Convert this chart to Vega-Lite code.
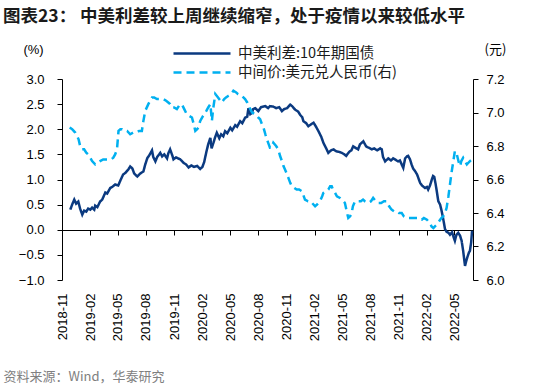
{
  "$schema": "https://vega.github.io/schema/vega-lite/v6.json",
  "width": 411,
  "height": 201,
  "autosize": {"type": "none"},
  "padding": {"left": 62, "top": 79, "right": 77, "bottom": 104},
  "background": "white",
  "title": {
    "text": "图表23： 中美利差较上周继续缩窄，处于疫情以来较低水平",
    "anchor": "start",
    "frame": "group",
    "dx": -59,
    "dy": -18,
    "offset": 0,
    "font": "Noto Sans CJK SC",
    "fontSize": 17.5,
    "fontWeight": "bold",
    "color": "#1a1a1a"
  },
  "datasets": {
    "spread": [
      {"d": "2018-11-28", "v": 0.40}, {"d": "2018-12-04", "v": 0.50}, {"d": "2018-12-11", "v": 0.60}, {"d": "2018-12-17", "v": 0.52},
      {"d": "2018-12-24", "v": 0.56}, {"d": "2018-12-30", "v": 0.42}, {"d": "2019-01-06", "v": 0.30}, {"d": "2019-01-12", "v": 0.38},
      {"d": "2019-01-19", "v": 0.36}, {"d": "2019-01-25", "v": 0.42}, {"d": "2019-02-01", "v": 0.40}, {"d": "2019-02-07", "v": 0.44},
      {"d": "2019-02-14", "v": 0.40}, {"d": "2019-02-17", "v": 0.48}, {"d": "2019-02-24", "v": 0.45}, {"d": "2019-03-05", "v": 0.56},
      {"d": "2019-03-12", "v": 0.60}, {"d": "2019-03-22", "v": 0.74}, {"d": "2019-03-28", "v": 0.72}, {"d": "2019-04-07", "v": 0.83},
      {"d": "2019-04-13", "v": 0.85}, {"d": "2019-04-23", "v": 0.90}, {"d": "2019-05-03", "v": 0.88}, {"d": "2019-05-10", "v": 0.98},
      {"d": "2019-05-19", "v": 1.10}, {"d": "2019-05-26", "v": 1.13}, {"d": "2019-06-05", "v": 1.20}, {"d": "2019-06-11", "v": 1.26},
      {"d": "2019-06-18", "v": 1.22}, {"d": "2019-06-24", "v": 1.12}, {"d": "2019-07-04", "v": 1.06}, {"d": "2019-07-14", "v": 1.12},
      {"d": "2019-07-24", "v": 1.16}, {"d": "2019-07-30", "v": 1.30}, {"d": "2019-08-06", "v": 1.43}, {"d": "2019-08-12", "v": 1.48},
      {"d": "2019-08-21", "v": 1.58}, {"d": "2019-08-25", "v": 1.45}, {"d": "2019-09-01", "v": 1.36}, {"d": "2019-09-07", "v": 1.45},
      {"d": "2019-09-17", "v": 1.53}, {"d": "2019-09-23", "v": 1.46}, {"d": "2019-09-30", "v": 1.50}, {"d": "2019-10-09", "v": 1.42},
      {"d": "2019-10-13", "v": 1.52}, {"d": "2019-10-19", "v": 1.60}, {"d": "2019-10-26", "v": 1.48}, {"d": "2019-10-30", "v": 1.40},
      {"d": "2019-11-07", "v": 1.44}, {"d": "2019-11-21", "v": 1.40}, {"d": "2019-12-02", "v": 1.33}, {"d": "2019-12-10", "v": 1.30},
      {"d": "2019-12-18", "v": 1.24}, {"d": "2019-12-27", "v": 1.28}, {"d": "2020-01-05", "v": 1.25}, {"d": "2020-01-15", "v": 1.27},
      {"d": "2020-01-25", "v": 1.21}, {"d": "2020-02-01", "v": 1.25}, {"d": "2020-02-07", "v": 1.35}, {"d": "2020-02-14", "v": 1.55},
      {"d": "2020-02-20", "v": 1.70}, {"d": "2020-02-27", "v": 1.83}, {"d": "2020-03-02", "v": 1.62}, {"d": "2020-03-08", "v": 1.73},
      {"d": "2020-03-14", "v": 1.85}, {"d": "2020-03-19", "v": 1.93}, {"d": "2020-03-27", "v": 1.82}, {"d": "2020-04-02", "v": 1.90},
      {"d": "2020-04-09", "v": 1.86}, {"d": "2020-04-15", "v": 1.96}, {"d": "2020-04-22", "v": 1.92}, {"d": "2020-05-02", "v": 2.03},
      {"d": "2020-05-08", "v": 1.98}, {"d": "2020-05-18", "v": 2.08}, {"d": "2020-05-24", "v": 2.05}, {"d": "2020-06-03", "v": 2.16},
      {"d": "2020-06-10", "v": 2.12}, {"d": "2020-06-19", "v": 2.23}, {"d": "2020-06-26", "v": 2.25}, {"d": "2020-06-30", "v": 2.42},
      {"d": "2020-07-06", "v": 2.30}, {"d": "2020-07-11", "v": 2.32}, {"d": "2020-07-15", "v": 2.40}, {"d": "2020-07-22", "v": 2.42},
      {"d": "2020-08-01", "v": 2.36}, {"d": "2020-08-10", "v": 2.44}, {"d": "2020-08-24", "v": 2.46}, {"d": "2020-09-02", "v": 2.42},
      {"d": "2020-09-08", "v": 2.46}, {"d": "2020-09-19", "v": 2.45}, {"d": "2020-09-28", "v": 2.42}, {"d": "2020-10-08", "v": 2.44},
      {"d": "2020-10-17", "v": 2.36}, {"d": "2020-10-24", "v": 2.40}, {"d": "2020-11-03", "v": 2.42}, {"d": "2020-11-13", "v": 2.49},
      {"d": "2020-11-19", "v": 2.46}, {"d": "2020-11-29", "v": 2.39}, {"d": "2020-12-09", "v": 2.35}, {"d": "2020-12-15", "v": 2.29},
      {"d": "2020-12-22", "v": 2.24}, {"d": "2020-12-26", "v": 2.16}, {"d": "2021-01-04", "v": 2.12}, {"d": "2021-01-11", "v": 2.06},
      {"d": "2021-01-20", "v": 2.10}, {"d": "2021-01-28", "v": 2.13}, {"d": "2021-02-05", "v": 2.05}, {"d": "2021-02-13", "v": 1.96},
      {"d": "2021-02-22", "v": 1.85}, {"d": "2021-03-01", "v": 1.73}, {"d": "2021-03-10", "v": 1.62}, {"d": "2021-03-17", "v": 1.53},
      {"d": "2021-03-26", "v": 1.58}, {"d": "2021-04-03", "v": 1.60}, {"d": "2021-04-12", "v": 1.56}, {"d": "2021-04-21", "v": 1.55},
      {"d": "2021-04-30", "v": 1.53}, {"d": "2021-05-08", "v": 1.50}, {"d": "2021-05-14", "v": 1.47}, {"d": "2021-05-24", "v": 1.55},
      {"d": "2021-05-31", "v": 1.58}, {"d": "2021-06-06", "v": 1.66}, {"d": "2021-06-16", "v": 1.62}, {"d": "2021-06-22", "v": 1.60},
      {"d": "2021-06-28", "v": 1.70}, {"d": "2021-07-09", "v": 1.76}, {"d": "2021-07-18", "v": 1.66}, {"d": "2021-07-24", "v": 1.64},
      {"d": "2021-08-06", "v": 1.60}, {"d": "2021-08-13", "v": 1.62}, {"d": "2021-08-23", "v": 1.58}, {"d": "2021-09-02", "v": 1.62},
      {"d": "2021-09-07", "v": 1.60}, {"d": "2021-09-11", "v": 1.45}, {"d": "2021-09-18", "v": 1.36}, {"d": "2021-09-28", "v": 1.42},
      {"d": "2021-10-07", "v": 1.38}, {"d": "2021-10-14", "v": 1.42}, {"d": "2021-10-20", "v": 1.40}, {"d": "2021-10-30", "v": 1.36},
      {"d": "2021-11-05", "v": 1.38}, {"d": "2021-11-16", "v": 1.23}, {"d": "2021-11-22", "v": 1.42}, {"d": "2021-11-28", "v": 1.46},
      {"d": "2021-12-02", "v": 1.47}, {"d": "2021-12-08", "v": 1.40}, {"d": "2021-12-13", "v": 1.30}, {"d": "2021-12-18", "v": 1.22},
      {"d": "2021-12-24", "v": 1.17}, {"d": "2021-12-31", "v": 1.10}, {"d": "2022-01-10", "v": 0.93}, {"d": "2022-01-16", "v": 0.88},
      {"d": "2022-01-26", "v": 0.83}, {"d": "2022-02-01", "v": 0.85}, {"d": "2022-02-05", "v": 0.80}, {"d": "2022-02-11", "v": 0.88},
      {"d": "2022-02-17", "v": 1.00}, {"d": "2022-02-21", "v": 1.07}, {"d": "2022-02-25", "v": 1.05}, {"d": "2022-03-01", "v": 0.92},
      {"d": "2022-03-05", "v": 0.77}, {"d": "2022-03-10", "v": 0.57}, {"d": "2022-03-16", "v": 0.50}, {"d": "2022-03-21", "v": 0.37},
      {"d": "2022-03-25", "v": 0.25}, {"d": "2022-04-01", "v": 0.01}, {"d": "2022-04-06", "v": -0.04}, {"d": "2022-04-12", "v": -0.06},
      {"d": "2022-04-17", "v": -0.10}, {"d": "2022-04-24", "v": -0.05}, {"d": "2022-04-29", "v": -0.15}, {"d": "2022-05-03", "v": -0.22},
      {"d": "2022-05-08", "v": -0.10}, {"d": "2022-05-14", "v": -0.06}, {"d": "2022-05-20", "v": -0.12}, {"d": "2022-05-25", "v": -0.22},
      {"d": "2022-05-30", "v": -0.42}, {"d": "2022-06-05", "v": -0.72}, {"d": "2022-06-10", "v": -0.60}, {"d": "2022-06-14", "v": -0.52},
      {"d": "2022-06-18", "v": -0.45}, {"d": "2022-06-21", "v": -0.42}, {"d": "2022-06-25", "v": -0.25}, {"d": "2022-06-28", "v": -0.02}
    ],
    "fx": [
      {"d": "2018-11-26", "v": 6.91}, {"d": "2018-12-04", "v": 6.90}, {"d": "2018-12-14", "v": 6.88}, {"d": "2018-12-20", "v": 6.86},
      {"d": "2018-12-25", "v": 6.84}, {"d": "2018-12-30", "v": 6.80}, {"d": "2019-01-05", "v": 6.78}, {"d": "2019-01-12", "v": 6.78},
      {"d": "2019-01-19", "v": 6.76}, {"d": "2019-01-25", "v": 6.75}, {"d": "2019-02-01", "v": 6.73}, {"d": "2019-02-07", "v": 6.71},
      {"d": "2019-02-17", "v": 6.69}, {"d": "2019-02-24", "v": 6.70}, {"d": "2019-03-05", "v": 6.71}, {"d": "2019-03-15", "v": 6.72},
      {"d": "2019-03-22", "v": 6.72}, {"d": "2019-03-31", "v": 6.72}, {"d": "2019-04-10", "v": 6.72}, {"d": "2019-04-17", "v": 6.73},
      {"d": "2019-04-23", "v": 6.75}, {"d": "2019-04-29", "v": 6.78}, {"d": "2019-05-04", "v": 6.89}, {"d": "2019-05-10", "v": 6.90},
      {"d": "2019-05-16", "v": 6.90}, {"d": "2019-05-26", "v": 6.89}, {"d": "2019-06-01", "v": 6.89}, {"d": "2019-06-11", "v": 6.87},
      {"d": "2019-06-21", "v": 6.88}, {"d": "2019-06-30", "v": 6.88}, {"d": "2019-07-10", "v": 6.89}, {"d": "2019-07-19", "v": 6.89},
      {"d": "2019-07-24", "v": 6.95}, {"d": "2019-07-30", "v": 7.01}, {"d": "2019-08-09", "v": 7.05}, {"d": "2019-08-21", "v": 7.09},
      {"d": "2019-08-28", "v": 7.09}, {"d": "2019-09-06", "v": 7.08}, {"d": "2019-09-17", "v": 7.08}, {"d": "2019-09-27", "v": 7.08},
      {"d": "2019-10-06", "v": 7.07}, {"d": "2019-10-13", "v": 7.06}, {"d": "2019-10-19", "v": 7.05}, {"d": "2019-10-25", "v": 7.03},
      {"d": "2019-11-01", "v": 7.03}, {"d": "2019-11-10", "v": 7.02}, {"d": "2019-11-17", "v": 7.04}, {"d": "2019-11-26", "v": 7.05},
      {"d": "2019-12-04", "v": 7.02}, {"d": "2019-12-12", "v": 6.99}, {"d": "2019-12-20", "v": 6.98}, {"d": "2019-12-29", "v": 6.97},
      {"d": "2020-01-04", "v": 6.93}, {"d": "2020-01-09", "v": 6.89}, {"d": "2020-01-15", "v": 6.90}, {"d": "2020-01-19", "v": 6.91},
      {"d": "2020-01-25", "v": 6.95}, {"d": "2020-01-31", "v": 6.97}, {"d": "2020-02-07", "v": 6.99}, {"d": "2020-02-14", "v": 7.01},
      {"d": "2020-02-20", "v": 7.03}, {"d": "2020-02-27", "v": 7.05}, {"d": "2020-03-03", "v": 6.95}, {"d": "2020-03-07", "v": 7.02},
      {"d": "2020-03-14", "v": 7.11}, {"d": "2020-03-23", "v": 7.09}, {"d": "2020-04-04", "v": 7.06}, {"d": "2020-04-12", "v": 7.08},
      {"d": "2020-04-18", "v": 7.09}, {"d": "2020-04-26", "v": 7.10}, {"d": "2020-05-05", "v": 7.11}, {"d": "2020-05-12", "v": 7.13},
      {"d": "2020-05-21", "v": 7.12}, {"d": "2020-05-27", "v": 7.11}, {"d": "2020-06-08", "v": 7.10}, {"d": "2020-06-19", "v": 7.08},
      {"d": "2020-06-26", "v": 7.06}, {"d": "2020-07-06", "v": 7.02}, {"d": "2020-07-12", "v": 7.00}, {"d": "2020-07-22", "v": 6.99},
      {"d": "2020-08-01", "v": 6.97}, {"d": "2020-08-07", "v": 6.96}, {"d": "2020-08-13", "v": 6.93}, {"d": "2020-08-18", "v": 6.91},
      {"d": "2020-08-24", "v": 6.87}, {"d": "2020-08-29", "v": 6.84}, {"d": "2020-09-02", "v": 6.82}, {"d": "2020-09-08", "v": 6.79},
      {"d": "2020-09-13", "v": 6.79}, {"d": "2020-09-19", "v": 6.82}, {"d": "2020-09-28", "v": 6.80}, {"d": "2020-10-05", "v": 6.78},
      {"d": "2020-10-11", "v": 6.74}, {"d": "2020-10-17", "v": 6.71}, {"d": "2020-10-22", "v": 6.68}, {"d": "2020-10-27", "v": 6.66},
      {"d": "2020-11-03", "v": 6.63}, {"d": "2020-11-07", "v": 6.61}, {"d": "2020-11-13", "v": 6.58}, {"d": "2020-11-18", "v": 6.56},
      {"d": "2020-11-26", "v": 6.55}, {"d": "2020-12-04", "v": 6.54}, {"d": "2020-12-12", "v": 6.54}, {"d": "2020-12-21", "v": 6.53},
      {"d": "2020-12-25", "v": 6.51}, {"d": "2020-12-31", "v": 6.48}, {"d": "2021-01-10", "v": 6.47}, {"d": "2021-01-17", "v": 6.47},
      {"d": "2021-01-23", "v": 6.46}, {"d": "2021-02-02", "v": 6.44}, {"d": "2021-02-08", "v": 6.45}, {"d": "2021-02-18", "v": 6.47},
      {"d": "2021-02-25", "v": 6.50}, {"d": "2021-03-01", "v": 6.52}, {"d": "2021-03-10", "v": 6.53}, {"d": "2021-03-17", "v": 6.54},
      {"d": "2021-03-23", "v": 6.56}, {"d": "2021-03-28", "v": 6.56}, {"d": "2021-04-01", "v": 6.54}, {"d": "2021-04-08", "v": 6.52},
      {"d": "2021-04-14", "v": 6.50}, {"d": "2021-04-24", "v": 6.49}, {"d": "2021-05-01", "v": 6.48}, {"d": "2021-05-10", "v": 6.46},
      {"d": "2021-05-17", "v": 6.40}, {"d": "2021-05-21", "v": 6.37}, {"d": "2021-05-27", "v": 6.38}, {"d": "2021-06-01", "v": 6.40},
      {"d": "2021-06-05", "v": 6.44}, {"d": "2021-06-12", "v": 6.47}, {"d": "2021-06-22", "v": 6.47}, {"d": "2021-07-01", "v": 6.47},
      {"d": "2021-07-08", "v": 6.48}, {"d": "2021-07-14", "v": 6.47}, {"d": "2021-07-24", "v": 6.46}, {"d": "2021-08-03", "v": 6.47},
      {"d": "2021-08-10", "v": 6.49}, {"d": "2021-08-19", "v": 6.47}, {"d": "2021-08-27", "v": 6.46}, {"d": "2021-09-05", "v": 6.46},
      {"d": "2021-09-14", "v": 6.47}, {"d": "2021-09-23", "v": 6.47}, {"d": "2021-10-01", "v": 6.44}, {"d": "2021-10-09", "v": 6.42},
      {"d": "2021-10-17", "v": 6.41}, {"d": "2021-10-26", "v": 6.41}, {"d": "2021-11-02", "v": 6.40}, {"d": "2021-11-11", "v": 6.40},
      {"d": "2021-11-18", "v": 6.38}, {"d": "2021-11-27", "v": 6.37}, {"d": "2021-12-05", "v": 6.37}, {"d": "2021-12-13", "v": 6.37},
      {"d": "2021-12-21", "v": 6.37}, {"d": "2021-12-31", "v": 6.37}, {"d": "2022-01-06", "v": 6.36}, {"d": "2022-01-15", "v": 6.36},
      {"d": "2022-01-22", "v": 6.37}, {"d": "2022-02-01", "v": 6.36}, {"d": "2022-02-11", "v": 6.34}, {"d": "2022-02-16", "v": 6.32},
      {"d": "2022-02-22", "v": 6.31}, {"d": "2022-02-27", "v": 6.32}, {"d": "2022-03-05", "v": 6.33}, {"d": "2022-03-09", "v": 6.34},
      {"d": "2022-03-16", "v": 6.36}, {"d": "2022-03-20", "v": 6.37}, {"d": "2022-03-26", "v": 6.38}, {"d": "2022-04-01", "v": 6.40},
      {"d": "2022-04-06", "v": 6.43}, {"d": "2022-04-12", "v": 6.50}, {"d": "2022-04-17", "v": 6.57}, {"d": "2022-04-22", "v": 6.64},
      {"d": "2022-04-28", "v": 6.71}, {"d": "2022-05-03", "v": 6.77}, {"d": "2022-05-08", "v": 6.76}, {"d": "2022-05-12", "v": 6.73},
      {"d": "2022-05-16", "v": 6.70}, {"d": "2022-05-20", "v": 6.68}, {"d": "2022-05-24", "v": 6.71}, {"d": "2022-05-30", "v": 6.73},
      {"d": "2022-06-05", "v": 6.71}, {"d": "2022-06-11", "v": 6.69}, {"d": "2022-06-16", "v": 6.70}, {"d": "2022-06-21", "v": 6.71},
      {"d": "2022-06-28", "v": 6.72}
    ]
  },
  "encoding": {
    "x": {
      "field": "d",
      "type": "temporal",
      "scale": {"domain": [{"year": 2018, "month": 11, "date": 1}, {"year": 2022, "month": 7, "date": 1}]},
      "axis": {
        "orient": "bottom",
        "offset": -50,
        "values": [
          {"year": 2018, "month": 11, "date": 1}, {"year": 2019, "month": 2, "date": 1}, {"year": 2019, "month": 5, "date": 1},
          {"year": 2019, "month": 8, "date": 1}, {"year": 2019, "month": 11, "date": 1}, {"year": 2020, "month": 2, "date": 1},
          {"year": 2020, "month": 5, "date": 1}, {"year": 2020, "month": 8, "date": 1}, {"year": 2020, "month": 11, "date": 1},
          {"year": 2021, "month": 2, "date": 1}, {"year": 2021, "month": 5, "date": 1}, {"year": 2021, "month": 8, "date": 1},
          {"year": 2021, "month": 11, "date": 1}, {"year": 2022, "month": 2, "date": 1}, {"year": 2022, "month": 5, "date": 1}
        ],
        "format": "%Y-%m",
        "labelAngle": -90,
        "labelAlign": "right",
        "labelBaseline": "middle",
        "labelPadding": 58,
        "labelOverlap": false,
        "labelSeparation": 0,
        "labelFlush": false,
        "tickSize": 5,
        "title": "资料来源：Wind，华泰研究",
        "titleX": -59,
        "titleY": 146,
        "titleAlign": "left",
        "titleAnchor": "start",
        "titleBaseline": "middle",
        "titleFontSize": 13,
        "titleColor": "#808080"
      }
    }
  },
  "layer": [
    {
      "data": {"name": "spread"},
      "mark": {"type": "line", "strokeWidth": 2.5},
      "encoding": {
        "y": {
          "field": "v",
          "type": "quantitative",
          "scale": {"domain": [-1, 3], "nice": false, "zero": false},
          "axis": {
            "orient": "left",
            "values": [-1, -0.5, 0, 0.5, 1, 1.5, 2, 2.5, 3],
            "format": ".1f",
            "labelPadding": 13,
            "title": "(%)",
            "titleAngle": 0,
            "titleX": -29,
            "titleY": -30,
            "titleAlign": "center",
            "titleBaseline": "middle",
            "titleFont": "Liberation Sans"
          }
        },
        "color": {
          "datum": "中美利差:10年期国债",
          "type": "nominal",
          "scale": {"domain": ["中美利差:10年期国债", "中间价:美元兑人民币(右)"], "range": ["#0b3a80", "#00b0f0"]},
          "legend": {"title": null, "orient": "none", "legendX": 110, "legendY": -34}
        },
        "strokeDash": {
          "datum": "中美利差:10年期国债",
          "type": "nominal",
          "scale": {"domain": ["中美利差:10年期国债", "中间价:美元兑人民币(右)"], "range": [[1, 0], [8, 5]]},
          "legend": {"title": null, "orient": "none", "legendX": 110, "legendY": -34}
        }
      }
    },
    {
      "data": {"name": "fx"},
      "mark": {"type": "line", "strokeWidth": 2.5},
      "encoding": {
        "y": {
          "field": "v",
          "type": "quantitative",
          "scale": {"domain": [6.0, 7.2], "nice": false, "zero": false},
          "axis": {
            "orient": "right",
            "values": [6.0, 6.2, 6.4, 6.6, 6.8, 7.0, 7.2],
            "format": ".1f",
            "labelPadding": 8,
            "title": "(元)",
            "titleAngle": 0,
            "titleX": 22,
            "titleY": -30,
            "titleAlign": "center",
            "titleBaseline": "middle"
          }
        },
        "color": {"datum": "中间价:美元兑人民币(右)", "type": "nominal"},
        "strokeDash": {"datum": "中间价:美元兑人民币(右)", "type": "nominal"}
      }
    }
  ],
  "resolve": {"scale": {"y": "independent"}, "axis": {"y": "independent"}},
  "config": {
    "view": {"stroke": null},
    "axis": {
      "grid": false,
      "labelFont": "Liberation Sans",
      "labelFontSize": 13,
      "labelColor": "#000000",
      "titleFont": "Noto Sans CJK SC",
      "titleFontSize": 13,
      "titleFontWeight": "normal",
      "titleColor": "#000000",
      "domainColor": "#000000",
      "tickColor": "#000000",
      "tickSize": 5
    },
    "axisX": {"labelOverlap": false, "labelSeparation": 0},
    "legend": {
      "direction": "vertical",
      "symbolType": "stroke",
      "symbolSize": 3249,
      "symbolStrokeWidth": 2.5,
      "clipHeight": 17,
      "rowPadding": 2,
      "padding": 0,
      "labelFont": "Noto Sans CJK SC",
      "labelFontSize": 14.5,
      "labelColor": "#1a1a1a",
      "labelOffset": 6,
      "labelLimit": 300
    }
  }
}
